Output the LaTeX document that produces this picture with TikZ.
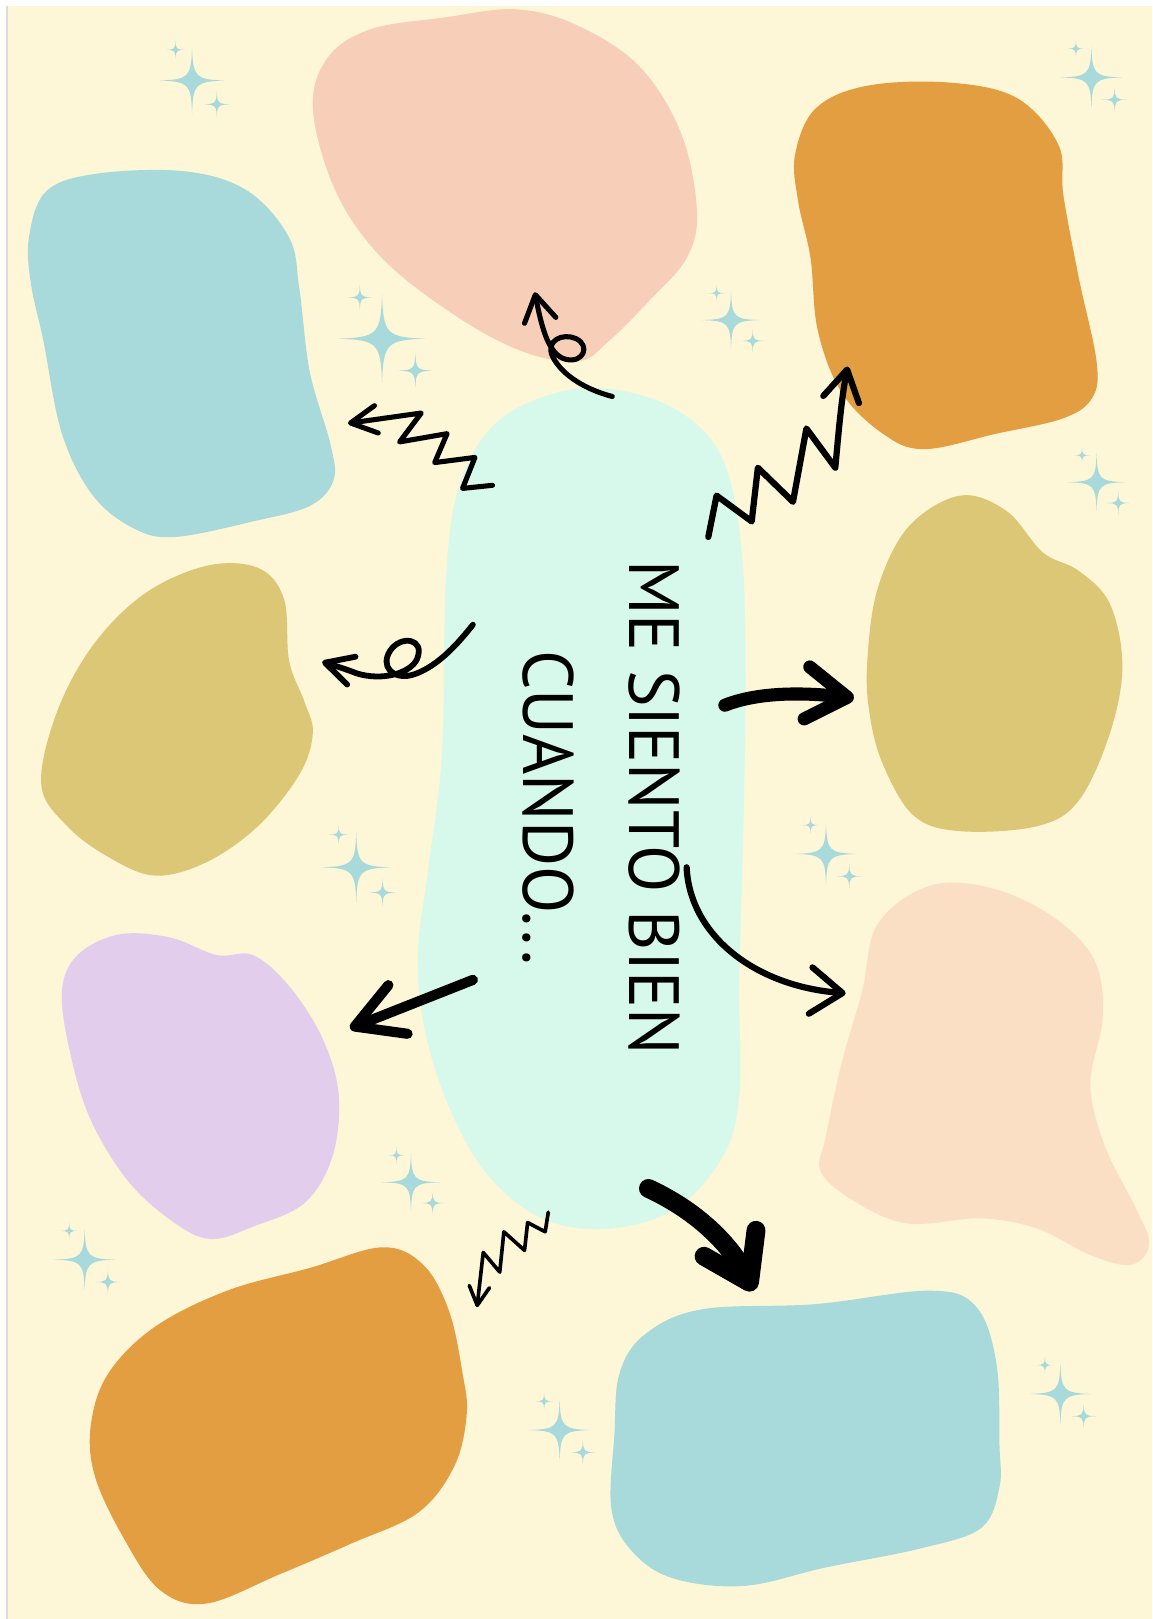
\documentclass[tikz,border=0pt]{standalone}
\usepackage{fontspec}
\newfontfamily\rotulo[FakeStretch=0.97]{PT Sans}
\usetikzlibrary{arrows.meta}
\definecolor{fondo}{HTML}{FDF6D7}
\definecolor{borde}{HTML}{DCDCE0}
\definecolor{celeste}{HTML}{A8DADC}
\definecolor{rosa}{HTML}{F7CFB9}
\definecolor{naranja}{HTML}{E39E42}
\definecolor{oliva}{HTML}{DCC776}
\definecolor{lila}{HTML}{E2CEEC}
\definecolor{melocoton}{HTML}{FBDFC4}
\definecolor{menta}{HTML}{D6F9EC}

\begin{document}
\begin{tikzpicture}[x=0.025cm,y=-0.025cm,
  garabato/.style={draw=black,line cap=round,line join=round}]
  \useasboundingbox (0,0) rectangle (1116,1568);
  \fill[white] (0,0) rectangle (1116,1568);
  \fill[fondo] (8,6) rectangle (1116,1568);
  \draw[borde,line width=1.5pt] (7,6) -- (7,1568);

  % manchas
  \fill[rosa] plot[smooth cycle,tension=0.6] coordinates {(303,105) (318,55) (360,28)
    (430,17) (500,9) (560,25) (620,65) (660,130) (675,205) (665,250) (630,290)
    (590,330) (560,350) (505,340) (440,305) (370,250) (325,185)};
  \fill[naranja] plot[smooth cycle,tension=0.6] coordinates {(770,150) (790,105)
    (840,83) (920,80) (985,95) (1025,140) (1030,190) (1045,270) (1062,350)
    (1058,385) (1030,405) (965,420) (895,435) (855,420) (815,380) (792,320)
    (785,250) (773,195)};
  \fill[celeste] plot[smooth cycle,tension=0.6] coordinates {(28,230) (45,185)
    (95,168) (180,166) (240,185) (280,230) (290,280) (300,360) (320,430)
    (323,465) (300,490) (245,505) (170,520) (130,512) (90,480) (60,420)
    (42,330) (30,275)};
  \fill[oliva] plot[smooth cycle,tension=0.6] coordinates {(40,760) (55,690)
    (90,625) (140,575) (200,548) (250,550) (275,580) (280,640) (295,680)
    (303,710) (290,750) (250,800) (200,835) (150,848) (105,830) (65,800)};
  \fill[oliva] plot[smooth cycle,tension=0.6] coordinates {(840,640) (850,570)
    (880,510) (930,480) (975,495) (1010,535) (1045,553) (1075,585) (1087,645)
    (1075,710) (1045,775) (1005,800) (930,805) (885,790) (855,740) (842,690)};
  \fill[lila] plot[smooth cycle,tension=0.6] coordinates {(60,960) (75,925)
    (115,905) (165,908) (210,925) (245,925) (280,955) (312,1005) (328,1060)
    (322,1120) (295,1165) (245,1188) (205,1200) (170,1185) (125,1145)
    (88,1085) (68,1020)};
  \fill[melocoton] plot[smooth cycle,tension=0.6] coordinates {(800,1100)
    (815,1030) (835,960) (850,895) (900,858) (960,860) (1020,888) (1060,930)
    (1068,985) (1056,1050) (1070,1110) (1100,1170) (1113,1205) (1095,1225)
    (1055,1215) (1005,1190) (950,1180) (880,1185) (830,1165) (795,1135)};
  \fill[naranja] plot[smooth cycle,tension=0.6] coordinates {(88,1380) (105,1330)
    (150,1285) (220,1250) (300,1228) (370,1208) (410,1225) (435,1270)
    (448,1330) (452,1370) (440,1420) (405,1465) (340,1495) (270,1525)
    (200,1553) (155,1540) (120,1490) (92,1430)};
  \fill[celeste] plot[smooth cycle,tension=0.6] coordinates {(600,1330) (625,1292)
    (680,1268) (790,1263) (900,1250) (945,1265) (965,1320) (968,1400)
    (968,1440) (950,1480) (890,1500) (800,1518) (720,1536) (650,1528)
    (610,1500) (592,1460) (595,1390)};
  \fill[menta] plot[smooth cycle,tension=0.6] coordinates {(432,560) (445,470)
    (480,410) (540,380) (600,378) (660,400) (700,445) (718,530) (722,650)
    (720,800) (716,950) (716,1060) (700,1120) (655,1170) (590,1190) (525,1180)
    (470,1135) (432,1065) (410,990) (405,920) (415,840) (428,730)};

  % destellos: uno grande y dos chicos por grupo
  \foreach \px/\py/\tam in {186/78/32, 370/328/43, 708/310/28, 1057/75/30,
    1062/467/28, 345/840/34, 800/827/30, 398/1145/28, 82/1220/30,
    542/1385/30, 1027/1350/30}
    \foreach \cx/\cy/\r in {0/0/1, -0.5/-0.93/0.28, 0.75/0.72/0.4}
      \fill[celeste,shift={(\px+\cx*\tam,\py+\cy*\tam)},scale=\r*\tam]
        (0,-1) .. controls (0.03,-0.1) and (0.1,-0.03) .. (1,0)
        .. controls (0.1,0.03) and (0.03,0.1) .. (0,1)
        .. controls (-0.03,0.1) and (-0.1,0.03) .. (-1,0)
        .. controls (-0.1,-0.03) and (-0.03,-0.1) .. cycle;

  \node[rotate=-90,align=center,inner sep=0pt,
    font=\rotulo\fontsize{49}{73}\selectfont] (titulo) at (582,782)
    {ME SIENTO BIEN\\CUANDO...};

  % flechas
  \draw[garabato,line width=3.5pt,-{Straight Barb[round,length=18pt,width=22pt]}]
    (593,384) .. controls (570,378) and (545,365) .. (535,345)
    .. controls (528,330) and (545,322) .. (558,328)
    .. controls (572,335) and (565,352) .. (548,348)
    .. controls (532,344) and (525,320) .. (518,283);
  \draw[garabato,line width=3.5pt,-{Straight Barb[round,length=18pt,width=19pt]}]
    (477,470) -- (448,473) -- (460,443) -- (421,448) -- (433,420) -- (387,428)
    -- (408,400) -- (337,410);
  \draw[garabato,line width=4.3pt,-{Straight Barb[round,length=21pt,width=25pt]}]
    (686,520) -- (694,480) -- (728,505) -- (734,453) -- (768,486) -- (781,415)
    -- (809,453) .. controls (812,420) and (815,385) .. (821,355);
  \draw[garabato,line width=4pt,-{Straight Barb[round,length=19pt,width=20pt]}]
    (458,605) .. controls (440,628) and (420,648) .. (398,654)
    .. controls (380,658) and (368,645) .. (378,630)
    .. controls (388,615) and (412,618) .. (404,638)
    .. controls (398,652) and (370,660) .. (345,652)
    .. controls (335,648) and (322,644) .. (312,641);
  \draw[garabato,line width=9pt,-{Straight Barb[round,length=28pt,width=36pt]}]
    (702,683) .. controls (740,668) and (790,672) .. (827,676);
  \draw[garabato,line width=4.3pt,-{Straight Barb[round,length=22pt,width=32pt]}]
    (665,840) .. controls (668,905) and (730,955) .. (819,962);
  \draw[garabato,line width=7pt,-{Straight Barb[round,length=32pt,width=36pt]}]
    (458,949) -- (339,996);
  \draw[garabato,line width=2.5pt,-{Straight Barb[round,length=13pt,width=14pt]}]
    (531,1174) -- (528,1193) -- (511,1184) -- (508,1211) -- (488,1193)
    -- (484,1232) -- (468,1213) -- (462,1266);
  \draw[garabato,line width=13pt,-{Straight Barb[round,length=30pt,width=40pt]}]
    (628,1151) .. controls (680,1175) and (710,1210) .. (730,1250);
\end{tikzpicture}
\end{document}
